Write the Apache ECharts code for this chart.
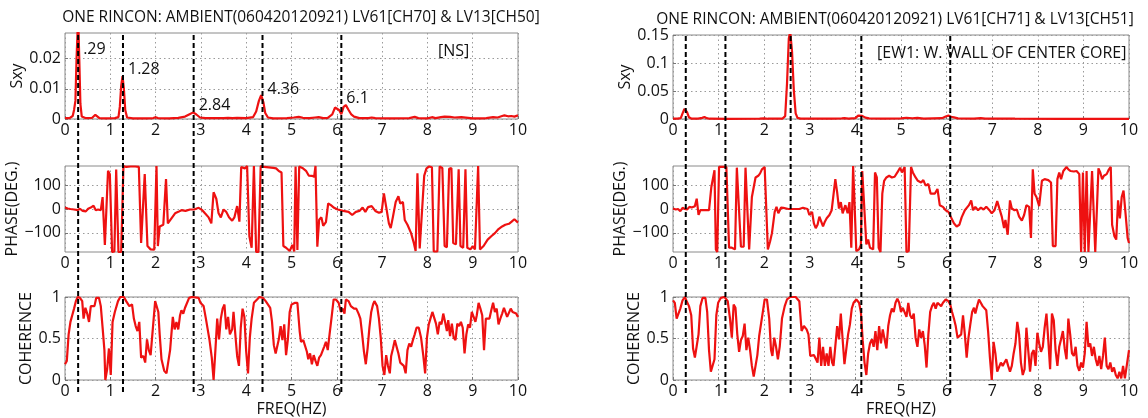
<!DOCTYPE html>
<html>
<head>
<meta charset="utf-8">
<script src="https://cdn.jsdelivr.net/npm/echarts@6/dist/echarts.min.js"></script>
<style>
  html, body { margin: 0; padding: 0; background: #fff; }
  #chart { width: 1148px; height: 418px; }
</style>
</head>
<body>
<div id="chart"></div>
<script>
// ---- titles and notes ----
const titleLeft = 'ONE RINCON: AMBIENT(060420120921) LV61[CH70] & LV13[CH50]';
const titleRight = 'ONE RINCON: AMBIENT(060420120921) LV61[CH71] & LV13[CH51]';
const noteLeft = '[NS]';
const noteRight = '[EW1: W. WALL OF CENTER CORE]';
const freqTicks = [0, 1, 2, 3, 4, 5, 6, 7, 8, 9, 10];
const sxyTicksLeft = [0, 0.01, 0.02];
const sxyTicksRight = [0, 0.05, 0.1, 0.15];
const phaseTicks = [-100, 0, 100];
const cohTicks = [0, 0.5, 1];

// identified modal frequencies (Hz) with their printed labels
const peakFreqLeft = [0.29, 1.28, 2.84, 4.36, 6.1];
const peakTextLeft = ['.29', '1.28', '2.84', '4.36', '6.1'];
const peakTextHeight = [0.023, 0.0164, 0.0046, 0.0099, 0.0069];
const peakFreqRight = [0.28, 1.15, 2.58, 4.13, 6.08];

// ---- cross spectrum Sxy, [freq, value] ----
const sxyLeft = [[0,0.0003],[0.1,0.0003],[0.17,0.001],[0.2,0.003],[0.23,0.006],[0.255,0.02],[0.29,0.034],[0.315,0.02],[0.34,0.005],[0.37,0.0008],[0.45,0.0003],[0.6,0.0004],[0.64,0.001],[0.67,0.0014],[0.71,0.0009],[0.76,0.0003],[0.9,0.0002],[1.1,0.0003],[1.18,0.0006],[1.21,0.004],[1.24,0.011],[1.27,0.0142],[1.3,0.01],[1.33,0.003],[1.37,0.0005],[1.5,0.0002],[1.8,0.0002],[1.95,0.0003],[2.0,0.0006],[2.05,0.0003],[2.3,0.0002],[2.5,0.0004],[2.65,0.0008],[2.75,0.0016],[2.83,0.0022],[2.9,0.0015],[2.98,0.0005],[3.1,0.0003],[3.5,0.0003],[3.6,0.0004],[3.7,0.0003],[3.8,0.0004],[4.0,0.0003],[4.15,0.0006],[4.22,0.0025],[4.28,0.006],[4.33,0.0079],[4.38,0.0055],[4.42,0.002],[4.48,0.0005],[4.6,0.0002],[4.9,0.0003],[5.05,0.0005],[5.16,0.0007],[5.25,0.0004],[5.4,0.0003],[5.52,0.0005],[5.6,0.0006],[5.7,0.0003],[5.8,0.0004],[5.9,0.0015],[5.96,0.0038],[6.0,0.0044],[6.05,0.003],[6.1,0.0016],[6.15,0.004],[6.2,0.0046],[6.26,0.003],[6.32,0.0015],[6.38,0.0008],[6.5,0.0003],[6.7,0.0003],[6.77,0.0005],[6.85,0.0003],[7.2,0.0002],[7.6,0.0003],[7.72,0.0007],[7.8,0.0003],[8.0,0.0002],[8.1,0.0006],[8.18,0.0003],[8.3,0.0006],[8.38,0.0008],[8.5,0.0007],[8.6,0.0005],[8.75,0.0006],[8.9,0.0004],[9.0,0.0002],[9.2,0.0002],[9.3,0.0003],[9.45,0.0006],[9.55,0.0005],[9.65,0.001],[9.7,0.0012],[9.78,0.0009],[9.85,0.001],[9.92,0.0008],[10,0.0012]];

const sxyRight = [[0,0.0005],[0.1,0.0006],[0.17,0.0015],[0.21,0.01],[0.25,0.018],[0.28,0.019],[0.31,0.012],[0.35,0.003],[0.4,0.0008],[0.55,0.0006],[0.64,0.002],[0.69,0.0035],[0.74,0.0015],[0.8,0.0005],[1.2,0.0004],[1.9,0.0005],[2.0,0.0012],[2.08,0.0005],[2.4,0.0008],[2.46,0.005],[2.5,0.063],[2.54,0.144],[2.57,0.156],[2.61,0.121],[2.65,0.051],[2.69,0.01],[2.73,0.002],[2.8,0.0006],[3.5,0.0005],[3.7,0.001],[3.76,0.0014],[3.85,0.0008],[4.0,0.0015],[4.06,0.006],[4.1,0.008],[4.15,0.0055],[4.22,0.0025],[4.3,0.0012],[4.6,0.0006],[5.0,0.0012],[5.12,0.0022],[5.25,0.0013],[5.36,0.002],[5.5,0.0008],[5.9,0.0015],[5.98,0.0045],[6.04,0.006],[6.1,0.004],[6.16,0.003],[6.25,0.0012],[6.6,0.0008],[6.75,0.0016],[6.85,0.0008],[7.5,0.0005],[8.5,0.0004],[10,0.0004]];

// ---- phase in degrees, [freq, deg] ----
const phaseLeft = [[0,6],[0.06,2],[0.12,0],[0.2,-2],[0.28,-5],[0.33,1],[0.39,-8],[0.46,-10],[0.51,1],[0.57,6],[0.63,14],[0.68,-5],[0.73,-2],[0.79,-5],[0.83,50],[0.88,-150],[0.92,-155],[0.95,160],[0.99,145],[1.04,-180],[1.09,-178],[1.13,165],[1.18,-180],[1.24,-180],[1.29,180],[1.35,176],[1.45,178],[1.55,178],[1.63,176],[1.68,-142],[1.76,146],[1.82,-155],[1.89,-169],[1.97,-170],[2.02,180],[2.05,-155],[2.09,-73],[2.17,-66],[2.23,125],[2.27,-60],[2.35,-39],[2.43,-18],[2.5,-12],[2.57,-5],[2.66,-8],[2.76,-2],[2.85,-2],[2.95,5],[3.03,-5],[3.09,-18],[3.17,-35],[3.23,-60],[3.28,70],[3.34,43],[3.39,-18],[3.44,-35],[3.5,-2],[3.56,-12],[3.62,-35],[3.69,-49],[3.74,-35],[3.8,12],[3.85,-53],[3.89,176],[3.97,170],[4.02,180],[4.07,-114],[4.12,-162],[4.17,180],[4.22,-180],[4.27,-180],[4.32,180],[4.4,176],[4.5,174],[4.6,172],[4.66,170],[4.72,159],[4.78,153],[4.82,-155],[4.88,-162],[4.96,-176],[5.02,-150],[5.06,-178],[5.09,178],[5.13,-172],[5.17,178],[5.24,172],[5.32,160],[5.38,140],[5.45,139],[5.5,135],[5.53,180],[5.57,-158],[5.61,-45],[5.66,-35],[5.7,-70],[5.76,-55],[5.81,23],[5.87,16],[5.94,5],[6.02,-2],[6.14,-8],[6.26,-12],[6.34,-25],[6.42,-12],[6.5,-8],[6.57,6],[6.63,-12],[6.69,8],[6.77,12],[6.85,-8],[6.93,-16],[6.99,-12],[7.04,65],[7.09,9],[7.15,-60],[7.19,-80],[7.24,-32],[7.3,29],[7.36,53],[7.4,23],[7.46,29],[7.5,-46],[7.56,-66],[7.64,-101],[7.7,-142],[7.74,-176],[7.78,150],[7.83,-165],[7.87,-160],[7.93,140],[7.98,170],[8.04,178],[8.1,175],[8.14,-178],[8.22,-178],[8.27,178],[8.33,172],[8.38,-155],[8.43,-160],[8.48,168],[8.53,172],[8.57,-142],[8.63,-148],[8.69,166],[8.73,-155],[8.79,-162],[8.84,166],[8.88,-162],[8.95,-169],[9.0,-155],[9.05,-169],[9.12,180],[9.16,-169],[9.24,-155],[9.33,-128],[9.41,-114],[9.49,-101],[9.57,-84],[9.65,-73],[9.72,-66],[9.8,-62],[9.86,-53],[9.92,-43],[10,-57]];

const phaseRight = [[0,2],[0.06,-2],[0.11,0],[0.16,-9],[0.21,5],[0.26,0],[0.31,-2],[0.36,9],[0.41,6],[0.48,12],[0.52,43],[0.56,-25],[0.6,-5],[0.73,-5],[0.79,-5],[0.84,91],[0.88,132],[0.91,162],[0.94,-169],[0.97,-180],[1.01,176],[1.09,176],[1.17,176],[1.23,-162],[1.29,-162],[1.36,-169],[1.4,173],[1.44,166],[1.49,-158],[1.55,-158],[1.59,173],[1.63,176],[1.67,-169],[1.73,50],[1.77,57],[1.81,132],[1.87,139],[1.91,149],[1.95,166],[2.01,176],[2.05,176],[2.08,-169],[2.13,-135],[2.17,-101],[2.23,-12],[2.27,9],[2.31,-18],[2.37,6],[2.42,5],[2.53,0],[2.65,0],[2.77,0],[2.85,5],[2.89,9],[2.95,0],[2.99,-25],[3.05,-12],[3.09,-60],[3.13,-80],[3.17,-66],[3.21,-32],[3.25,-39],[3.29,-73],[3.33,-53],[3.37,-39],[3.43,-25],[3.48,-5],[3.52,-12],[3.56,125],[3.6,70],[3.64,2],[3.68,29],[3.72,-18],[3.78,16],[3.83,-18],[3.87,29],[3.91,-162],[3.95,180],[3.99,180],[4.02,-176],[4.08,-169],[4.12,-150],[4.15,159],[4.19,166],[4.24,-148],[4.28,-128],[4.32,-162],[4.39,-169],[4.43,153],[4.47,132],[4.51,-162],[4.55,-180],[4.59,64],[4.63,118],[4.68,132],[4.74,139],[4.8,132],[4.86,135],[4.92,153],[4.98,173],[5.02,153],[5.08,176],[5.12,-180],[5.17,-176],[5.22,176],[5.26,153],[5.32,132],[5.37,118],[5.44,111],[5.49,121],[5.54,98],[5.6,105],[5.65,64],[5.69,70],[5.74,64],[5.8,84],[5.85,16],[5.92,9],[5.98,-5],[6.04,-12],[6.09,-32],[6.16,-60],[6.22,-73],[6.28,-66],[6.33,-35],[6.4,-5],[6.44,-12],[6.49,16],[6.54,36],[6.58,-5],[6.63,9],[6.69,-5],[6.75,6],[6.81,-2],[6.87,9],[6.94,-5],[6.99,-18],[7.05,-5],[7.11,33],[7.15,25],[7.21,-32],[7.26,-80],[7.29,-46],[7.34,-108],[7.39,36],[7.43,2],[7.49,-5],[7.54,-2],[7.59,-32],[7.65,-49],[7.7,-25],[7.75,16],[7.81,9],[7.85,-121],[7.89,166],[7.93,64],[7.97,50],[8.03,12],[8.09,118],[8.15,125],[8.23,121],[8.29,111],[8.33,-155],[8.39,-155],[8.43,125],[8.47,153],[8.51,125],[8.56,159],[8.63,176],[8.67,166],[8.72,159],[8.79,157],[8.85,159],[8.91,146],[8.95,-180],[8.99,153],[9.03,-180],[9.07,159],[9.11,-180],[9.15,-180],[9.19,159],[9.23,153],[9.26,-180],[9.29,-180],[9.33,170],[9.37,153],[9.41,125],[9.45,139],[9.51,146],[9.56,166],[9.6,176],[9.63,-66],[9.68,-114],[9.72,-128],[9.76,36],[9.8,-39],[9.84,50],[9.88,77],[9.93,-32],[9.97,-121],[10,-142]];

// ---- coherence, [freq, value] ----
const cohLeft = [[0,0.19],[0.04,0.23],[0.08,0.55],[0.12,0.7],[0.16,0.78],[0.2,0.86],[0.24,0.95],[0.28,1.0],[0.33,0.99],[0.38,0.95],[0.41,0.74],[0.45,0.87],[0.49,0.8],[0.53,0.7],[0.57,0.89],[0.61,0.87],[0.65,0.89],[0.69,0.99],[0.75,0.99],[0.79,0.89],[0.83,0.63],[0.87,0.36],[0.89,0.0],[0.93,0.13],[0.97,0.38],[1.01,0.06],[1.05,0.7],[1.1,0.82],[1.17,0.95],[1.22,1.0],[1.3,1.0],[1.35,0.95],[1.42,0.89],[1.48,0.91],[1.52,0.74],[1.56,0.65],[1.6,0.59],[1.64,0.7],[1.68,0.27],[1.73,0.29],[1.77,0.21],[1.81,0.49],[1.85,0.36],[1.89,0.3],[1.93,0.3],[1.99,0.95],[2.03,0.95],[2.06,0.82],[2.09,0.55],[2.13,0.25],[2.19,0.11],[2.24,0.08],[2.28,0.08],[2.32,0.36],[2.38,0.76],[2.42,0.61],[2.46,0.7],[2.5,0.61],[2.54,0.78],[2.57,0.84],[2.61,0.8],[2.65,0.87],[2.69,0.89],[2.74,0.99],[2.8,1.0],[2.95,0.99],[2.99,0.93],[3.06,0.89],[3.11,0.74],[3.19,0.48],[3.24,0.27],[3.28,0.0],[3.32,0.36],[3.36,0.74],[3.4,0.49],[3.44,0.74],[3.48,0.86],[3.52,0.91],[3.56,0.61],[3.6,0.76],[3.64,0.55],[3.69,0.61],[3.72,0.82],[3.76,0.55],[3.8,0.29],[3.84,0.17],[3.88,0.63],[3.92,0.86],[3.96,0.76],[4.0,0.34],[4.04,0.08],[4.08,0.51],[4.12,0.74],[4.17,0.93],[4.24,0.97],[4.29,1.0],[4.37,0.99],[4.43,0.95],[4.47,0.97],[4.53,0.87],[4.57,0.7],[4.61,0.42],[4.65,0.32],[4.69,0.3],[4.72,0.49],[4.76,0.65],[4.8,0.48],[4.84,0.67],[4.88,0.3],[4.92,0.49],[4.96,0.82],[5.0,0.91],[5.08,0.93],[5.13,0.93],[5.18,0.59],[5.21,0.46],[5.26,0.48],[5.3,0.49],[5.34,0.34],[5.37,0.25],[5.41,0.32],[5.45,0.19],[5.49,0.3],[5.53,0.23],[5.57,0.17],[5.61,0.27],[5.65,0.3],[5.69,0.29],[5.72,0.4],[5.76,0.46],[5.8,0.36],[5.84,0.55],[5.89,0.78],[5.93,0.97],[5.98,0.97],[6.04,0.93],[6.09,0.82],[6.13,0.86],[6.17,0.8],[6.2,0.97],[6.26,0.95],[6.31,0.89],[6.38,0.86],[6.43,0.86],[6.48,0.8],[6.52,0.74],[6.56,0.55],[6.6,0.34],[6.64,0.19],[6.68,0.38],[6.72,0.63],[6.76,0.82],[6.8,0.91],[6.83,0.95],[6.89,0.89],[6.93,0.74],[6.97,0.51],[7.01,0.17],[7.05,0.06],[7.09,0.3],[7.13,0.17],[7.17,0.08],[7.2,0.29],[7.24,0.38],[7.28,0.48],[7.32,0.49],[7.36,0.32],[7.4,0.21],[7.44,0.21],[7.48,0.17],[7.52,0.08],[7.56,0.36],[7.6,0.44],[7.64,0.4],[7.68,0.48],[7.72,0.55],[7.76,0.63],[7.81,0.63],[7.86,0.51],[7.91,0.29],[7.95,0.08],[7.99,0.51],[8.03,0.67],[8.07,0.67],[8.11,0.82],[8.15,0.8],[8.19,0.68],[8.23,0.55],[8.27,0.7],[8.31,0.67],[8.35,0.8],[8.39,0.7],[8.43,0.59],[8.46,0.72],[8.5,0.53],[8.54,0.68],[8.58,0.51],[8.62,0.48],[8.66,0.68],[8.7,0.65],[8.74,0.7],[8.78,0.63],[8.82,0.32],[8.86,0.55],[8.9,0.67],[8.94,0.63],[8.98,0.82],[9.02,0.76],[9.06,0.7],[9.09,0.78],[9.13,0.93],[9.17,0.86],[9.21,0.78],[9.25,0.36],[9.29,0.74],[9.33,0.76],[9.37,0.74],[9.41,0.84],[9.45,0.93],[9.49,0.82],[9.53,0.86],[9.57,0.67],[9.61,0.74],[9.65,0.8],[9.69,0.87],[9.72,0.86],[9.76,0.76],[9.8,0.78],[9.84,0.86],[9.88,0.82],[9.92,0.84],[9.96,0.8],[10,0.76]];

const cohRight = [[0,0.96],[0.04,0.93],[0.08,0.74],[0.12,0.76],[0.16,0.86],[0.21,0.96],[0.26,1.0],[0.3,0.95],[0.35,0.89],[0.4,0.78],[0.44,0.38],[0.48,0.27],[0.52,0.27],[0.56,0.55],[0.6,0.89],[0.65,0.99],[0.71,0.99],[0.75,0.82],[0.79,0.36],[0.83,0.1],[0.87,0.1],[0.91,0.25],[0.95,0.78],[0.99,0.93],[1.05,0.99],[1.13,1.0],[1.2,0.95],[1.25,0.74],[1.29,0.51],[1.33,0.91],[1.37,0.87],[1.41,0.55],[1.45,0.34],[1.49,0.48],[1.53,0.53],[1.57,0.68],[1.61,0.36],[1.65,0.51],[1.69,0.36],[1.73,0.17],[1.77,0.04],[1.81,0.06],[1.85,0.3],[1.89,0.53],[1.93,0.51],[1.97,0.82],[2.01,0.97],[2.06,0.97],[2.11,0.74],[2.15,0.36],[2.18,0.29],[2.22,0.51],[2.26,0.4],[2.3,0.25],[2.34,0.4],[2.39,0.74],[2.45,0.89],[2.5,0.97],[2.57,1.0],[2.69,1.0],[2.77,0.95],[2.82,0.59],[2.87,0.65],[2.93,0.61],[2.97,0.55],[3.01,0.29],[3.05,0.27],[3.09,0.3],[3.13,0.3],[3.17,0.21],[3.21,0.51],[3.25,0.17],[3.29,0.4],[3.33,0.17],[3.37,0.32],[3.41,0.17],[3.45,0.4],[3.49,0.21],[3.52,0.17],[3.56,0.17],[3.6,0.65],[3.64,0.49],[3.68,0.8],[3.72,0.49],[3.76,0.19],[3.8,0.17],[3.84,0.55],[3.88,0.67],[3.92,0.86],[3.96,0.93],[4.02,0.97],[4.08,0.93],[4.12,0.82],[4.16,0.48],[4.2,0.21],[4.24,0.06],[4.28,0.32],[4.32,0.44],[4.36,0.49],[4.4,0.4],[4.44,0.59],[4.48,0.36],[4.52,0.65],[4.56,0.44],[4.6,0.61],[4.64,0.49],[4.68,0.38],[4.72,0.65],[4.76,0.78],[4.8,0.86],[4.84,0.82],[4.88,0.93],[4.92,0.98],[4.96,0.93],[5.0,0.82],[5.04,0.87],[5.08,0.89],[5.12,0.76],[5.16,0.93],[5.2,0.78],[5.24,0.74],[5.28,0.8],[5.32,0.51],[5.36,0.4],[5.4,0.61],[5.44,0.51],[5.48,0.59],[5.52,0.42],[5.56,0.15],[5.6,0.55],[5.64,0.82],[5.68,0.89],[5.72,0.93],[5.76,0.86],[5.8,0.93],[5.84,0.95],[5.88,0.89],[5.92,0.93],[5.98,0.97],[6.04,0.95],[6.08,0.91],[6.12,0.82],[6.16,0.74],[6.2,0.65],[6.24,0.51],[6.28,0.49],[6.32,0.55],[6.36,0.78],[6.4,0.55],[6.44,0.27],[6.48,0.51],[6.52,0.67],[6.56,0.82],[6.6,0.87],[6.63,0.8],[6.67,0.89],[6.71,0.97],[6.75,0.93],[6.79,0.89],[6.83,0.89],[6.87,0.84],[6.91,0.59],[6.95,0.27],[6.99,0.0],[7.03,0.46],[7.07,0.32],[7.11,0.1],[7.15,0.08],[7.19,0.21],[7.23,0.17],[7.27,0.21],[7.31,0.25],[7.35,0.17],[7.39,0.1],[7.43,0.17],[7.47,0.32],[7.51,0.44],[7.55,0.7],[7.59,0.55],[7.63,0.21],[7.67,0.06],[7.71,0.13],[7.75,0.63],[7.79,0.36],[7.83,0.1],[7.87,0.32],[7.91,0.36],[7.95,0.17],[7.99,0.57],[8.03,0.44],[8.07,0.34],[8.11,0.4],[8.15,0.63],[8.19,0.8],[8.23,0.48],[8.27,0.13],[8.31,0.8],[8.35,0.72],[8.39,0.36],[8.43,0.17],[8.47,0.4],[8.51,0.49],[8.55,0.59],[8.59,0.38],[8.63,0.25],[8.67,0.74],[8.71,0.55],[8.75,0.32],[8.79,0.29],[8.83,0.4],[8.87,0.17],[8.91,0.11],[8.95,0.21],[8.99,0.15],[9.03,0.32],[9.07,0.7],[9.11,0.4],[9.15,0.44],[9.19,0.29],[9.23,0.4],[9.27,0.25],[9.31,0.17],[9.35,0.29],[9.39,0.13],[9.43,0.29],[9.47,0.51],[9.51,0.17],[9.55,0.13],[9.59,0.21],[9.63,0.1],[9.67,0.15],[9.71,0.06],[9.75,0.02],[9.79,0.1],[9.83,0.02],[9.87,0.17],[9.91,0.02],[9.95,0.0],[10,0.36]];

// ---- layout ----
const FONT = 'Open Sans';
const TXT = '#111';
const RED = '#ee1111';
const colL = { left: 65, width: 453 };
const colR = { left: 673, width: 456 };

const grids = [
  { ...colL, top: 33, height: 86 },   // 0 Sxy left
  { ...colL, top: 166, height: 86 },  // 1 phase left
  { ...colL, top: 297, height: 87 },  // 2 coherence left
  { ...colR, top: 35, height: 84 },   // 3 Sxy right
  { ...colR, top: 166, height: 86 },  // 4 phase right
  { ...colR, top: 297, height: 87 },  // 5 coherence right
  { ...colL, top: 33, height: 359 },  // 6 marker overlay left
  { ...colR, top: 35, height: 358 }   // 7 marker overlay right
].map((g, i) => Object.assign(g, i < 6
  ? { show: true, borderColor: '#8a8a8a', borderWidth: 1, backgroundColor: 'transparent' }
  : { show: false }));

const dotted = { show: true, lineStyle: { type: [1.5, 3], color: '#9a9a9a', width: 1 } };
const labelFont = { fontFamily: FONT, fontSize: 16, color: TXT };

function xAxisFor(gridIndex, withName) {
  const ax = {
    type: 'value', gridIndex, min: 0, max: 10, interval: 1,
    axisLine: { show: false },
    axisTick: { show: true, inside: true, length: 3, lineStyle: { color: '#777' } },
    axisLabel: { ...labelFont, margin: 3 },
    splitLine: dotted
  };
  if (withName) {
    Object.assign(ax, {
      name: 'FREQ(HZ)', nameLocation: 'middle', nameGap: 21,
      nameTextStyle: { fontFamily: FONT, fontSize: 16, color: TXT }
    });
  }
  return ax;
}

function yAxisFor(gridIndex, name, nameGap, min, max, ticks, fmt) {
  return {
    type: 'value', gridIndex, min, max,
    name, nameLocation: 'middle', nameGap, nameRotate: 90,
    nameTextStyle: { fontFamily: FONT, fontSize: 16, color: TXT },
    axisLine: { show: false },
    axisTick: { show: true, inside: true, length: 3, customValues: ticks, lineStyle: { color: '#777' } },
    axisLabel: { ...labelFont, margin: 4, customValues: ticks, formatter: fmt },
    splitLine: dotted
  };
}

const minus = v => String(v).replace('-', '\u2212');
const plain = v => String(v);

const xAxes = [
  xAxisFor(0), xAxisFor(1), xAxisFor(2, true),
  xAxisFor(3), xAxisFor(4), xAxisFor(5, true),
  { type: 'value', gridIndex: 6, min: 0, max: 10, show: false },
  { type: 'value', gridIndex: 7, min: 0, max: 10, show: false }
];
const yAxes = [
  yAxisFor(0, 'Sxy', 36, 0, 0.0285, sxyTicksLeft, plain),
  yAxisFor(1, 'PHASE(DEG.)', 41, -180, 180, phaseTicks, minus),
  yAxisFor(2, 'COHERENCE', 28, 0, 1, cohTicks, plain),
  yAxisFor(3, 'Sxy', 38, 0, 0.15, sxyTicksRight, plain),
  yAxisFor(4, 'PHASE(DEG.)', 43, -180, 180, phaseTicks, minus),
  yAxisFor(5, 'COHERENCE', 26, 0, 1, cohTicks, plain),
  { type: 'value', gridIndex: 6, min: 0, max: 1, show: false },
  { type: 'value', gridIndex: 7, min: 0, max: 1, show: false }
];

function trace(idx, data) {
  return {
    type: 'line', xAxisIndex: idx, yAxisIndex: idx, data,
    symbol: 'none', clip: true, silent: true, animation: false,
    lineStyle: { color: RED, width: 2.2 }, z: 3
  };
}

function markers(idx, freqs) {
  return freqs.map(f => ({
    type: 'line', xAxisIndex: idx, yAxisIndex: idx,
    data: [[f, 0], [f, 1]], symbol: 'none', silent: true, animation: false,
    lineStyle: { color: '#000', width: 2, type: [5, 3] }, z: 5
  }));
}

const peakLabels = {
  type: 'scatter', xAxisIndex: 0, yAxisIndex: 0, symbolSize: 0, silent: true, animation: false,
  itemStyle: { opacity: 1 },
  data: peakFreqLeft.map((f, i) => ({ value: [f, peakTextHeight[i]], name: peakTextLeft[i] })),
  label: {
    show: true, position: 'right', distance: 5, formatter: p => p.name,
    fontFamily: FONT, fontSize: 16, color: TXT, opacity: 1
  },
  z: 6
};

const series = [
  trace(0, sxyLeft), trace(1, phaseLeft), trace(2, cohLeft),
  trace(3, sxyRight), trace(4, phaseRight), trace(5, cohRight),
  ...markers(6, peakFreqLeft), ...markers(7, peakFreqRight),
  peakLabels
];

const chart = echarts.init(document.getElementById('chart'), null, { renderer: 'canvas' });
chart.setOption({
  animation: false,
  backgroundColor: '#fff',
  title: [
    { text: titleLeft, left: 296, top: 5, textAlign: 'center',
      textStyle: { fontFamily: FONT, fontSize: 15.5, fontWeight: 'normal', color: TXT } },
    { text: titleRight, left: 890, top: 7, textAlign: 'center',
      textStyle: { fontFamily: FONT, fontSize: 15.5, fontWeight: 'normal', color: TXT } }
  ],
  graphic: [
    { type: 'text', left: 438, top: 43, style: { text: noteLeft, font: '16px "Open Sans"', fill: TXT } },
    { type: 'text', left: 877, top: 45, style: { text: noteRight, font: '16px "Open Sans"', fill: TXT } }
  ],
  grid: grids,
  xAxis: xAxes,
  yAxis: yAxes,
  series
});
</script>
</body>
</html>
